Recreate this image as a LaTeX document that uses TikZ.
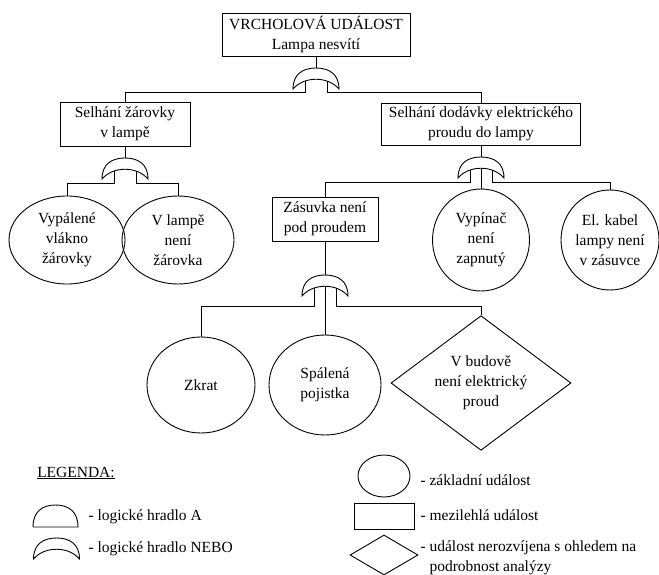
\documentclass[tikz,border=0pt]{standalone}
\usepackage{fontspec}
\setmainfont{Liberation Serif}
\usepackage{tikz}
\usetikzlibrary{calc,shapes.geometric}
\tikzset{
  mezi/.style={draw,line width=.9pt,align=center,inner sep=2pt},
  zakl/.style={draw,ellipse,line width=.9pt,align=center,inner sep=0pt},
  nerozv/.style={draw,diamond,line width=.9pt,align=center,inner sep=-3pt},
  spoj/.style={line width=.9pt},
  nebo/.pic={
    \draw[line width=.9pt] (-23,21) .. controls (-23,6) and (-13,0) .. (0,0)
      .. controls (13,0) and (23,6) .. (23,21)
      .. controls (12,8) and (-12,8) .. (-23,21) -- cycle;
    \coordinate (-vstup) at (0,0);
    \coordinate (-l) at (-11,13);
    \coordinate (-r) at (11,13);
    \coordinate (-s) at (0,11.25);
  }
}

\begin{document}
\begin{tikzpicture}[x=1pt,y=-1pt,font=\fontsize{15.5}{20}\selectfont]
              \useasboundingbox (0,0) rectangle (659,575);

              \node[mezi,minimum width=188,minimum height=43] (top) at (316,34.5) {VRCHOLOVÁ UDÁLOST\\Lampa nesvítí};
              \node[mezi,minimum width=130,minimum height=44] (zarovka) at (125,124) {Selhání žárovky\\v lampě};
              \node[mezi,minimum width=199,minimum height=42] (dodavka) at (481,124) {Selhání dodávky elektrického\\proudu do lampy};
              \node[mezi,minimum width=106,minimum height=44] (zasuvka) at (325,219) {Zásuvka není\\pod proudem};

              \node[zakl,minimum width=116,minimum height=88] (vlakno) at (67,240) {Vypálené\\vlákno\\žárovky};
              \node[zakl,minimum width=112,minimum height=88] (bezzarovky) at (178,240) {V lampě\\není\\žárovka};
              \node[zakl,minimum width=97,minimum height=102] (vypinac) at (481,240) {Vypínač\\není\\zapnutý};
              \node[zakl,minimum width=96,minimum height=100] (kabel) at (610,240) {El. kabel\\lampy není\\v zásuvce};

              \node[zakl,minimum width=108,minimum height=96] (zkrat) at (201,385) {Zkrat};
              \node[zakl,minimum width=112,minimum height=100] (pojistka) at (325,385) {Spálená\\pojistka};
              \node[nerozv,minimum width=180,minimum height=110] (budova) at (481,383) {V budově\\není elektrický\\proud};

              \pic (g1) at (316,68) {nebo};
              \pic (g2) at (125,158) {nebo};
              \pic (g3) at (481,157) {nebo};
              \pic (g4) at (325,275) {nebo};

              \draw[spoj] (top.south) -- (g1-vstup);
              \draw[spoj] (g1-l) -- ++(0,11) -| (zarovka.north);
              \draw[spoj] (g1-r) -- ++(0,11) -| (dodavka.north);

              \draw[spoj] (zarovka.south) -- (g2-vstup);
              \draw[spoj] (g2-l) -- ++(0,12) -| (vlakno.north);
              \draw[spoj] (g2-r) -- ++(0,12) -| (bezzarovky.north);

              \draw[spoj] (dodavka.south) -- (g3-vstup);
              \draw[spoj] (g3-l) -- ++(0,12) -| (zasuvka.north);
              \draw[spoj] (g3-s) -- (vypinac.north);
              \draw[spoj] (g3-r) -- ++(0,12) -| (kabel.north);

              \draw[spoj] (zasuvka.south) -- (g4-vstup);
              \draw[spoj] (g4-l) -- ++(0,18) -| (zkrat.north);
              \draw[spoj] (g4-s) -- (pojistka.north);
              \draw[spoj] (g4-r) -- ++(0,18) -| (budova.north);

              \node (legenda) at (76,473) {\underline{LEGENDA:}};
              \draw[spoj] (33,527) .. controls (33,511) and (43,505) .. (55.5,505)
                .. controls (68,505) and (78,511) .. (78,527) -- cycle;
                \node[right] (hradloa) at (85,517) {- logické hradlo A};
              \pic (gl) at (56.5,538) {nebo};
                \node[right] (hradlonebo) at (85,549) {- logické hradlo NEBO};

              \node[zakl,minimum width=52,minimum height=42] (lzakl) at (384,476) {};
                \node[right] at (417,480) {- základní událost};
              \node[mezi,minimum width=60,minimum height=26] (lmezi) at (384,516) {};
                \node[right] at (417,515) {- mezilehlá událost};
              \node[nerozv,minimum width=68,minimum height=40] (lnerozv) at (384,555) {};
                \node[right,align=left] at (417,558) {- událost nerozvíjena s ohledem na\\\phantom{- }podrobnost analýzy};
            \end{tikzpicture}
\end{document}
